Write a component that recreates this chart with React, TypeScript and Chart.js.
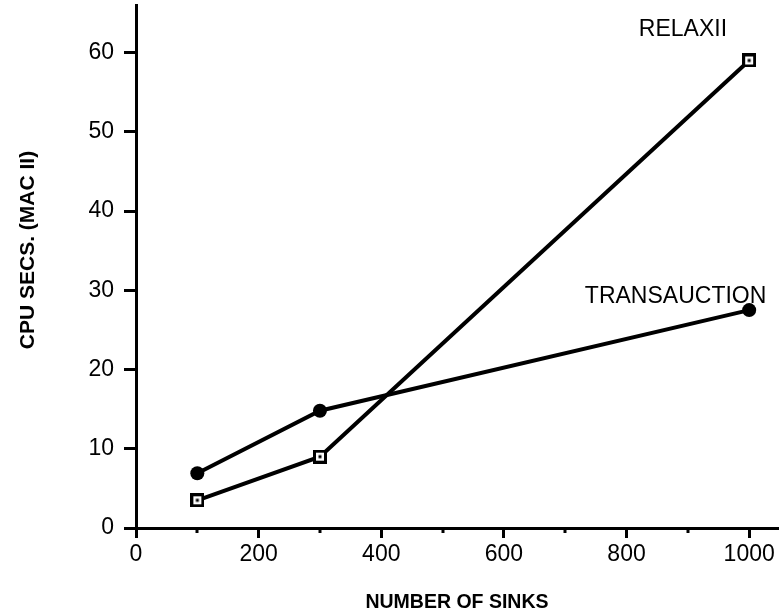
import React, { useEffect, useRef } from 'react';
import { Chart, registerables } from 'chart.js';
Chart.register(...registerables);

const SINKS = [100, 300, 1000];
const TRANSAUCTION = [6.9, 14.8, 27.5];
const RELAXII = [3.5, 9.0, 59.0];
const X_TICKS = [0, 200, 400, 600, 800, 1000];
const X_MINOR = [100, 300, 500, 700, 900];
const Y_TICKS = [0, 10, 20, 30, 40, 50, 60];
const X_TITLE = 'NUMBER OF SINKS';
const Y_TITLE = 'CPU SECS. (MAC II)';
const SERIES_NAMES = ['TRANSAUCTION', 'RELAXII'];
const NAME_AT_X = [880, 892];
const NAME_AT_Y = [29.2, 62.9];

const FONT = "'Liberation Sans', Arial, sans-serif";

function squareMarker(): HTMLCanvasElement {
  const c = document.createElement('canvas');
  c.width = 14;
  c.height = 14;
  const g = c.getContext('2d')!;
  g.fillStyle = '#000';
  g.fillRect(0, 0, 14, 14);
  g.fillStyle = '#fff';
  g.fillRect(3, 3, 8, 8);
  g.fillStyle = '#000';
  g.fillRect(5.5, 5.5, 3, 3);
  return c;
}

export default function App() {
  const ref = useRef<HTMLCanvasElement | null>(null);
  useEffect(() => {
    document.body.style.margin = '0';
    const canvas = ref.current!;
    const extras = {
      id: 'extras',
      afterDraw(chart: any) {
        const ctx = chart.ctx;
        const xs = chart.scales.x;
        const ys = chart.scales.y;
        const base = ys.getPixelForValue(0);
        ctx.save();
        ctx.strokeStyle = '#000';
        ctx.lineWidth = 3;
        for (const v of X_MINOR) {
          const px = Math.round(xs.getPixelForValue(v));
          ctx.beginPath();
          ctx.moveTo(px, base);
          ctx.lineTo(px, base + 5);
          ctx.stroke();
        }
        ctx.fillStyle = '#000';
        ctx.font = `bold 21px ${FONT}`;
        ctx.textAlign = 'center';
        ctx.textBaseline = 'middle';
        ctx.translate(28, 250);
        ctx.rotate(-Math.PI / 2);
        ctx.fillText(Y_TITLE, 0, 0);
        ctx.restore();

        ctx.save();
        ctx.fillStyle = '#000';
        ctx.font = `23px ${FONT}`;
        ctx.textAlign = 'center';
        ctx.textBaseline = 'middle';
        SERIES_NAMES.forEach((n, i) => {
          ctx.fillText(n, xs.getPixelForValue(NAME_AT_X[i]), ys.getPixelForValue(NAME_AT_Y[i]));
        });
        ctx.restore();
      },
    };
    const chart = new Chart(canvas, {
      type: 'line',
      data: {
        datasets: [
          {
            label: SERIES_NAMES[0],
            data: SINKS.map((x, i) => ({ x, y: TRANSAUCTION[i] })),
            borderColor: '#000',
            backgroundColor: '#000',
            borderWidth: 4,
            pointStyle: 'circle',
            pointRadius: 7,
            pointBorderWidth: 0,
            pointBackgroundColor: '#000',
            clip: false,
          },
          {
            label: SERIES_NAMES[1],
            data: SINKS.map((x, i) => ({ x, y: RELAXII[i] })),
            borderColor: '#000',
            backgroundColor: '#000',
            borderWidth: 4,
            pointStyle: squareMarker(),
            pointRadius: 7,
            clip: false,
          },
        ],
      },
      options: {
        animation: false,
        responsive: false,
        layout: { autoPadding: false, padding: { top: 5, right: 4, left: 0, bottom: 0 } },
        plugins: { legend: { display: false }, tooltip: { enabled: false } },
        scales: {
          x: {
            type: 'linear',
            min: 0,
            max: 1047,
            afterBuildTicks: (s: any) => {
              s.ticks = X_TICKS.map((value) => ({ value }));
            },
            afterFit: (s: any) => {
              s.height = 86;
              s.paddingLeft = 0;
              s.paddingRight = 0;
            },
            border: { display: true, color: '#000', width: 3 },
            grid: { drawOnChartArea: false, drawTicks: true, tickLength: 10, tickWidth: 3, tickColor: '#000' },
            ticks: {
              color: '#000',
              font: { family: FONT, size: 23 },
              padding: 3,
              maxRotation: 0,
              callback: (v: any) => String(v),
            },
            title: {
              display: true,
              text: X_TITLE,
              color: '#000',
              font: { family: FONT, size: 19.5, weight: 'bold' },
              padding: { top: 25, bottom: 0 },
            },
          },
          y: {
            type: 'linear',
            min: 0,
            max: 66,
            afterBuildTicks: (s: any) => {
              s.ticks = Y_TICKS.map((value) => ({ value }));
            },
            afterFit: (s: any) => {
              s.width = 136;
              s.paddingTop = 0;
              s.paddingBottom = 0;
            },
            border: { display: true, color: '#000', width: 3 },
            grid: { drawOnChartArea: false, drawTicks: true, tickLength: 12, tickWidth: 3, tickColor: '#000' },
            ticks: { color: '#000', font: { family: FONT, size: 23 }, padding: 10, callback: (v: any) => String(v) },
          },
        },
      },
      plugins: [extras],
    });
    return () => chart.destroy();
  }, []);
  return (
    <canvas
      ref={ref}
      width={782}
      height={614}
      style={{ position: 'absolute', left: 0, top: 0, width: 782, height: 614, display: 'block' }}
    />
  );
}
